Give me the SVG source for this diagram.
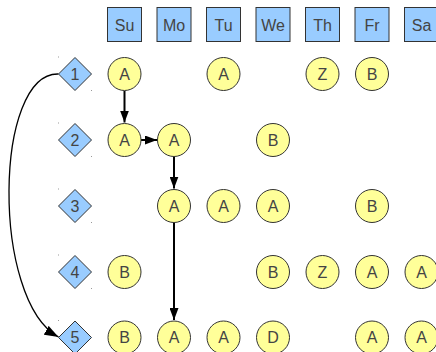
<svg xmlns="http://www.w3.org/2000/svg" width="436" height="352" viewBox="0 0 436 352">
<style>
text{font-family:"Liberation Sans",Arial,sans-serif;font-size:16px;fill:#444;text-anchor:middle;dominant-baseline:central}
.hdr{fill:#99ccff;stroke:#333;stroke-width:1}
.dia{fill:#99ccff;stroke:#333;stroke-width:1}
.cir{fill:#ffff99;stroke:#333;stroke-width:1}
.dot{fill:#999}
.edge{fill:none;stroke:#000;stroke-width:2}
.curve{fill:none;stroke:#000;stroke-width:1.3}
</style>
<defs>
<marker id="ah" viewBox="0 0 12 9" refX="12" refY="4.5" markerUnits="userSpaceOnUse" markerWidth="12" markerHeight="9" orient="auto">
<path d="M0,0 L12,4.5 L0,9 Z" fill="#000"/>
</marker>
<marker id="ah2" viewBox="0 0 14 10" refX="14" refY="5" markerUnits="userSpaceOnUse" markerWidth="14" markerHeight="10" orient="auto">
<path d="M0,0 L14,5 L0,10 Z" fill="#000"/>
</marker>
</defs>
<g id="headers">
<g id="h-su"><rect class="hdr" x="107.5" y="7.5" width="34" height="34"/><text x="124.5" y="25">Su</text></g>
<g id="h-mo"><rect class="hdr" x="157" y="7.5" width="34" height="34"/><text x="174" y="25">Mo</text></g>
<g id="h-tu"><rect class="hdr" x="206.5" y="7.5" width="34" height="34"/><text x="223.5" y="25">Tu</text></g>
<g id="h-we"><rect class="hdr" x="256" y="7.5" width="34" height="34"/><text x="273" y="25">We</text></g>
<g id="h-th"><rect class="hdr" x="305.5" y="7.5" width="34" height="34"/><text x="322.5" y="25">Th</text></g>
<g id="h-fr"><rect class="hdr" x="355" y="7.5" width="34" height="34"/><text x="372" y="25">Fr</text></g>
<g id="h-sa"><rect class="hdr" x="404.5" y="7.5" width="34" height="34"/><text x="421.5" y="25">Sa</text></g>
</g>
<g id="connectors">
<line class="edge" x1="124.5" y1="91" x2="124.5" y2="122.5" marker-end="url(#ah)"/>
<line class="edge" x1="141" y1="140" x2="157" y2="140" marker-end="url(#ah)"/>
<line class="edge" x1="174" y1="157" x2="174" y2="188.5" marker-end="url(#ah)"/>
<line class="edge" x1="174" y1="222.5" x2="174" y2="320" marker-end="url(#ah)"/>
<path class="curve" d="M58.5,74 C-6,72 -9,300 58.5,337" marker-end="url(#ah2)"/>
</g>
<g id="days">
<g id="d1"><polygon class="dia" points="75,57.5 91.5,74 75,90.5 58.5,74"/><text x="75" y="74">1</text><rect class="dot" x="58" y="56.5" width="1" height="1"/><rect class="dot" x="91" y="90" width="1" height="1"/></g>
<g id="d2"><polygon class="dia" points="75,123.5 91.5,140 75,156.5 58.5,140"/><text x="75" y="140">2</text><rect class="dot" x="58" y="122.5" width="1" height="1"/><rect class="dot" x="91" y="156" width="1" height="1"/></g>
<g id="d3"><polygon class="dia" points="75,189.5 91.5,206 75,222.5 58.5,206"/><text x="75" y="206">3</text><rect class="dot" x="58" y="188.5" width="1" height="1"/><rect class="dot" x="91" y="222" width="1" height="1"/></g>
<g id="d4"><polygon class="dia" points="75,255.5 91.5,272 75,288.5 58.5,272"/><text x="75" y="272">4</text><rect class="dot" x="58" y="254.5" width="1" height="1"/><rect class="dot" x="91" y="288" width="1" height="1"/></g>
<g id="d5"><polygon class="dia" points="75,321 91.5,337.5 75,354 58.5,337.5"/><text x="75" y="337.5">5</text><rect class="dot" x="58" y="320" width="1" height="1"/></g>
</g>
<g id="cells">
<g id="r1-su"><circle class="cir" cx="124.5" cy="74" r="16.5"/><text x="124.5" y="74">A</text></g>
<g id="r1-tu"><circle class="cir" cx="223.5" cy="74" r="16.5"/><text x="223.5" y="74">A</text></g>
<g id="r1-th"><circle class="cir" cx="322.5" cy="74" r="16.5"/><text x="322.5" y="74">Z</text></g>
<g id="r1-fr"><circle class="cir" cx="372" cy="74" r="16.5"/><text x="372" y="74">B</text></g>
<g id="r2-su"><circle class="cir" cx="124.5" cy="140" r="16.5"/><text x="124.5" y="140">A</text></g>
<g id="r2-mo"><circle class="cir" cx="174" cy="140" r="16.5"/><text x="174" y="140">A</text></g>
<g id="r2-we"><circle class="cir" cx="273" cy="140" r="16.5"/><text x="273" y="140">B</text></g>
<g id="r3-mo"><circle class="cir" cx="174" cy="206" r="16.5"/><text x="174" y="206">A</text></g>
<g id="r3-tu"><circle class="cir" cx="223.5" cy="206" r="16.5"/><text x="223.5" y="206">A</text></g>
<g id="r3-we"><circle class="cir" cx="273" cy="206" r="16.5"/><text x="273" y="206">A</text></g>
<g id="r3-fr"><circle class="cir" cx="372" cy="206" r="16.5"/><text x="372" y="206">B</text></g>
<g id="r4-su"><circle class="cir" cx="124.5" cy="272" r="16.5"/><text x="124.5" y="272">B</text></g>
<g id="r4-we"><circle class="cir" cx="273" cy="272" r="16.5"/><text x="273" y="272">B</text></g>
<g id="r4-th"><circle class="cir" cx="322.5" cy="272" r="16.5"/><text x="322.5" y="272">Z</text></g>
<g id="r4-fr"><circle class="cir" cx="372" cy="272" r="16.5"/><text x="372" y="272">A</text></g>
<g id="r4-sa"><circle class="cir" cx="421.5" cy="272" r="16.5"/><text x="421.5" y="272">A</text></g>
<g id="r5-su"><circle class="cir" cx="124.5" cy="337.5" r="16.5"/><text x="124.5" y="337.5">B</text></g>
<g id="r5-mo"><circle class="cir" cx="174" cy="337.5" r="16.5"/><text x="174" y="337.5">A</text></g>
<g id="r5-tu"><circle class="cir" cx="223.5" cy="337.5" r="16.5"/><text x="223.5" y="337.5">A</text></g>
<g id="r5-we"><circle class="cir" cx="273" cy="337.5" r="16.5"/><text x="273" y="337.5">D</text></g>
<g id="r5-fr"><circle class="cir" cx="372" cy="337.5" r="16.5"/><text x="372" y="337.5">A</text></g>
<g id="r5-sa"><circle class="cir" cx="421.5" cy="337.5" r="16.5"/><text x="421.5" y="337.5">A</text></g>
</g>
</svg>
